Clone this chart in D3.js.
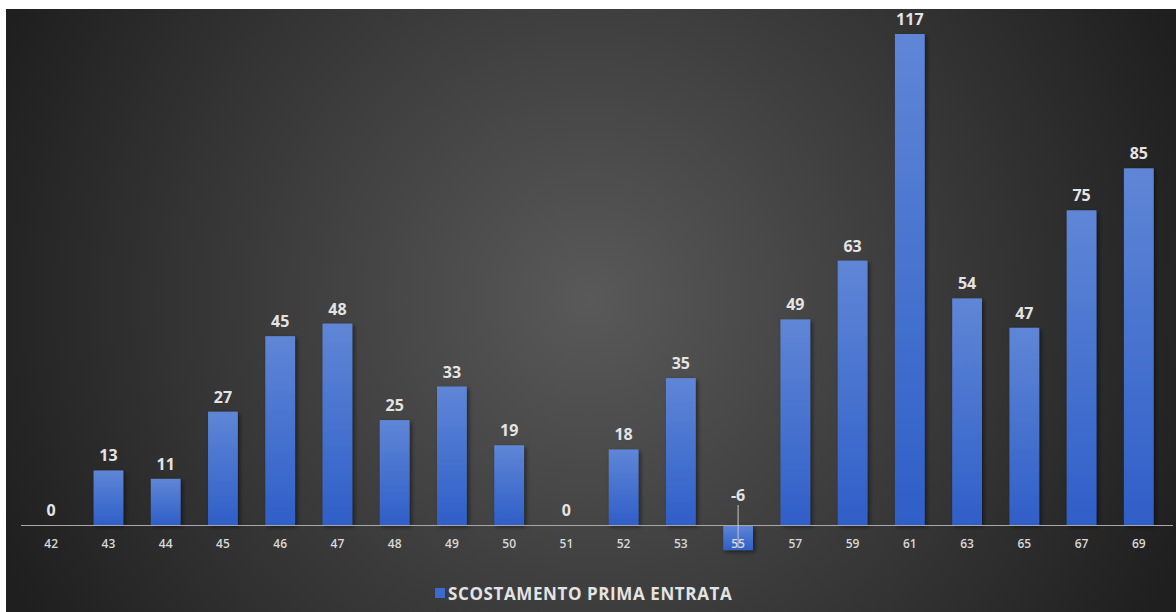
<!DOCTYPE html>
<html>
<head>
<meta charset="utf-8">
<script src="https://cdn.jsdelivr.net/npm/d3@7"></script>
<style>
  body { margin: 0; background: #fff; }
</style>
</head>
<body>
<div id="chart"></div>
<script>
// data
const categories = ["42", "43", "44", "45", "46", "47", "48", "49", "50", "51",
  "52", "53", "55", "57", "59", "61", "63", "65", "67", "69"];
const values = [0, 13, 11, 27, 45, 48, 25, 33, 19, 0, 18, 35, -6, 49, 63, 117, 54, 47, 75, 85];
const seriesName = "SCOSTAMENTO PRIMA ENTRATA";

const W = 1176, H = 612;
const font = "'Open Sans', 'Noto Sans', sans-serif";

const svg = d3.select("#chart").append("svg")
  .attr("width", W)
  .attr("height", H);

const defs = svg.append("defs");

const bg = defs.append("radialGradient")
  .attr("id", "bg")
  .attr("gradientUnits", "userSpaceOnUse")
  .attr("cx", 590).attr("cy", 300).attr("r", 640);
bg.append("stop").attr("offset", "0%").attr("stop-color", "#595959");
bg.append("stop").attr("offset", "100%").attr("stop-color", "#1f1f1f");

const barGrad = defs.append("linearGradient")
  .attr("id", "bar")
  .attr("x1", 0).attr("y1", 0).attr("x2", 0).attr("y2", 1);
barGrad.append("stop").attr("offset", "0%").attr("stop-color", "#5f86d6");
barGrad.append("stop").attr("offset", "100%").attr("stop-color", "#2f5fc8");

const shadow = defs.append("filter").attr("id", "shadow")
  .attr("x", "-20%").attr("y", "-20%").attr("width", "150%").attr("height", "150%");
shadow.append("feDropShadow")
  .attr("dx", 2).attr("dy", 2).attr("stdDeviation", 2)
  .attr("flood-color", "#000").attr("flood-opacity", 0.5);

// background
svg.append("rect")
  .attr("x", 6).attr("y", 9)
  .attr("width", W - 6).attr("height", H - 9)
  .attr("fill", "url(#bg)");

const x = d3.scaleBand()
  .domain(categories)
  .range([21, 1167])
  .paddingInner(0.48)
  .paddingOuter(0.25);

const y = d3.scaleLinear()
  .domain([0, 117])
  .range([525, 34]);

const data = categories.map((c, i) => ({ cat: c, value: values[i] }));

// bars
svg.append("g")
  .selectAll("rect")
  .data(data.filter(d => d.value !== 0))
  .join("rect")
  .attr("x", d => x(d.cat) + 1)
  .attr("width", x.bandwidth())
  .attr("y", d => y(Math.max(0, d.value)))
  .attr("height", d => Math.abs(y(d.value) - y(0)))
  .attr("fill", "url(#bar)")
  .attr("filter", "url(#shadow)");

// axis
const xAxis = svg.append("g")
  .attr("transform", `translate(1,${y(0)})`)
  .call(d3.axisBottom(x).tickSize(0).tickPadding(14));
xAxis.select(".domain")
  .attr("d", `M20,0.5H1172`)
  .attr("stroke", "#a8a8a8")
  .attr("stroke-width", 1.2);
xAxis.selectAll("text")
  .attr("fill", "#d8d8d8")
  .style("font-family", font)
  .style("font-size", "12px")
  .style("font-weight", "600");

// leader line for the negative bar
const neg = data.filter(d => d.value < 0);
svg.append("g")
  .selectAll("line")
  .data(neg)
  .join("line")
  .attr("x1", d => x(d.cat) + 1 + x.bandwidth() / 2)
  .attr("x2", d => x(d.cat) + 1 + x.bandwidth() / 2)
  .attr("y1", y(0) - 20)
  .attr("y2", d => y(d.value) - 2)
  .attr("stroke", "#c8c8c8")
  .attr("stroke-width", 1);

// value labels
svg.append("g")
  .selectAll("text")
  .data(data)
  .join("text")
  .attr("x", d => x(d.cat) + 1 + x.bandwidth() / 2)
  .attr("y", d => d.value < 0 ? y(0) - 24 : y(d.value) - 9)
  .attr("text-anchor", "middle")
  .attr("fill", "#e4e4e4")
  .style("font-family", font)
  .style("font-size", "16px")
  .style("font-weight", "700")
  .text(d => d.value);

// legend
const legend = svg.append("g").attr("transform", "translate(435,600)");
legend.append("rect")
  .attr("x", 0).attr("y", -12)
  .attr("width", 10).attr("height", 10)
  .attr("fill", "#3b6ad0");
legend.append("text")
  .attr("x", 13).attr("y", 0)
  .attr("fill", "#e4e4e4")
  .style("font-family", font)
  .style("font-size", "17px")
  .style("font-weight", "700")
  .style("letter-spacing", "0.6px")
  .text(seriesName);
</script>
</body>
</html>
